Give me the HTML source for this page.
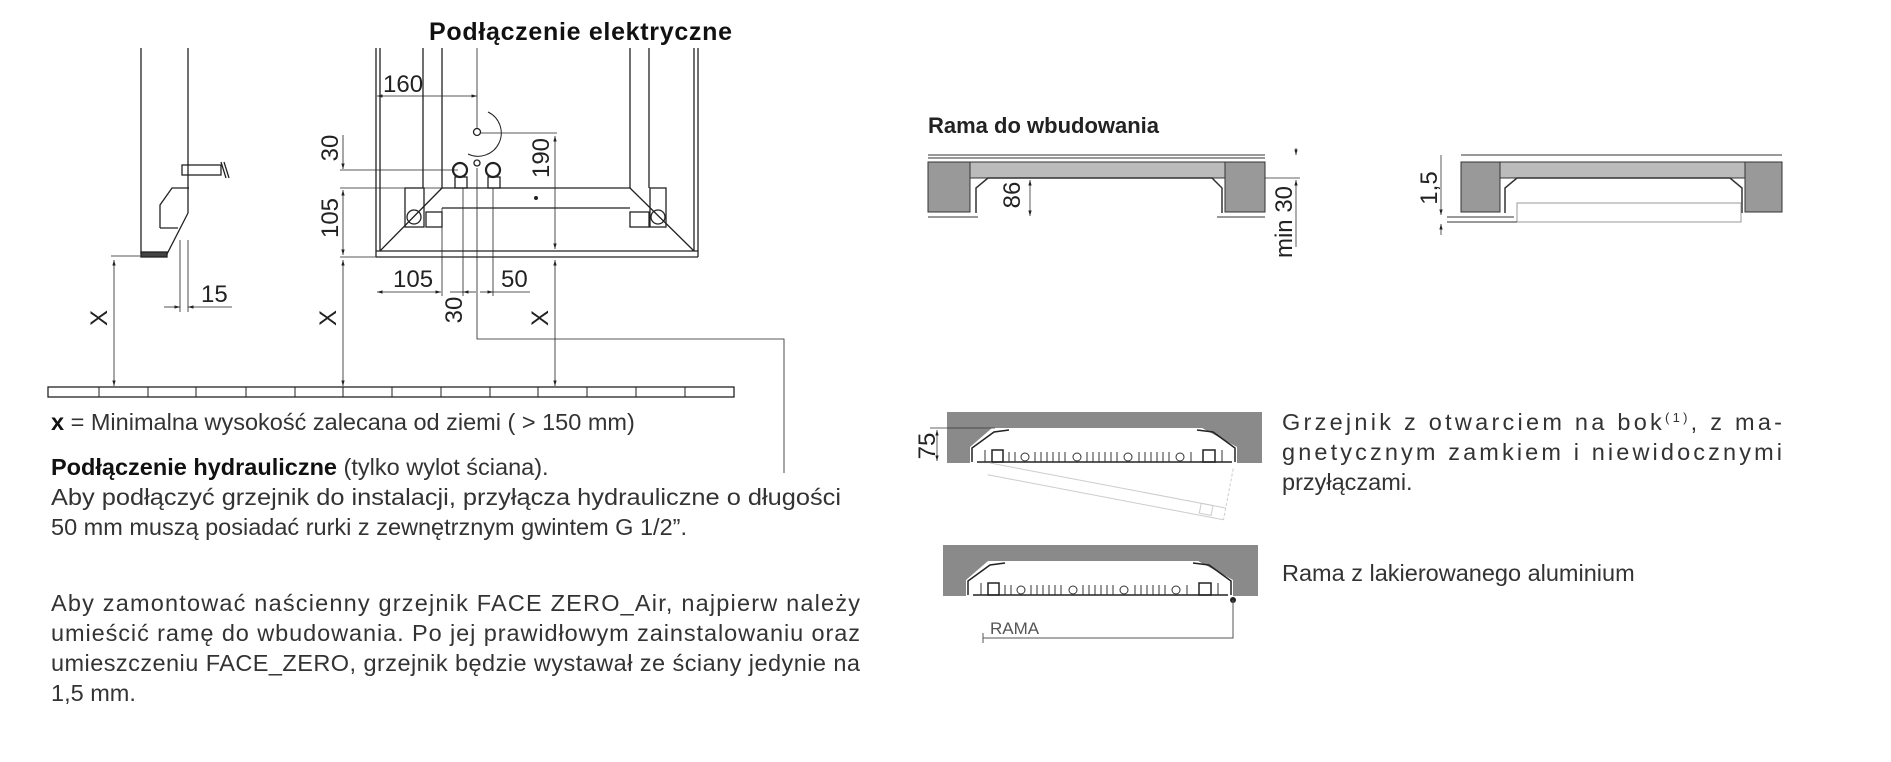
<!DOCTYPE html>
<html><head><meta charset="utf-8"><style>
html,body{margin:0;padding:0;background:#fff}
svg{display:block}
.t{font-family:"Liberation Sans",sans-serif;fill:#333;font-size:23.5px}
.n{font-family:"Liberation Sans Narrow","Liberation Sans",sans-serif;fill:#222;font-size:24px}
</style></head><body>
<svg width="1891" height="762" viewBox="0 0 1891 762" xmlns="http://www.w3.org/2000/svg">
<defs>
<marker id="a" viewBox="0 0 10 10" refX="10" refY="5" markerWidth="7" markerHeight="7" orient="auto-start-reverse"><path d="M0,2 L10,5 L0,8z" fill="#222"/></marker>
<g id="rad">
<rect x="0" y="0" width="315" height="51" fill="#8a8a8a"/>
<polygon points="23,51 23,35 45,16 255,16 290,35 290,51" fill="#fff"/>
<polyline points="25,50 25,36 47,20 62,18" fill="none" stroke="#222" stroke-width="1.5"/>
<polyline points="288,50 288,36 266,20 250,18" fill="none" stroke="#222" stroke-width="1.5"/>
<line x1="30" y1="50" x2="285" y2="50" stroke="#222" stroke-width="1.5"/>
<rect x="45" y="38" width="11" height="12" fill="none" stroke="#222" stroke-width="1.5"/>
<rect x="256" y="38" width="12" height="12" fill="none" stroke="#222" stroke-width="1.5"/>
<g stroke="#333" stroke-width="1">
<line x1="38" y1="38" x2="38" y2="50"/><line x1="62" y1="40" x2="62" y2="50"/><line x1="68" y1="40" x2="68" y2="50"/><line x1="88" y1="40" x2="88" y2="50"/><line x1="94" y1="40" x2="94" y2="50"/><line x1="100" y1="40" x2="100" y2="50"/><line x1="106" y1="40" x2="106" y2="50"/><line x1="112" y1="40" x2="112" y2="50"/><line x1="118" y1="40" x2="118" y2="50"/><line x1="140" y1="40" x2="140" y2="50"/><line x1="146" y1="40" x2="146" y2="50"/><line x1="152" y1="40" x2="152" y2="50"/><line x1="158" y1="40" x2="158" y2="50"/><line x1="164" y1="40" x2="164" y2="50"/><line x1="170" y1="40" x2="170" y2="50"/><line x1="192" y1="40" x2="192" y2="50"/><line x1="198" y1="40" x2="198" y2="50"/><line x1="204" y1="40" x2="204" y2="50"/><line x1="210" y1="40" x2="210" y2="50"/><line x1="216" y1="40" x2="216" y2="50"/><line x1="222" y1="40" x2="222" y2="50"/><line x1="244" y1="40" x2="244" y2="50"/><line x1="275" y1="38" x2="275" y2="50"/>
</g>
<g fill="none" stroke="#333"><circle cx="78" cy="45" r="4"/><circle cx="130" cy="45" r="4"/><circle cx="181" cy="45" r="4"/><circle cx="233" cy="45" r="4"/></g>
</g>
</defs>

<text x="429" y="40" font-family="Liberation Sans,sans-serif" font-weight="bold" font-size="25" fill="#111" textLength="303">Podłączenie elektryczne</text>

<g stroke="#222" stroke-width="1.3" fill="none">
<line x1="141" y1="48" x2="141" y2="254"/>
<line x1="188" y1="48" x2="188" y2="213"/>
<polyline points="188,213 166,256 141,256"/>
<rect x="141" y="252" width="26" height="5" fill="#444"/>
<polyline points="160,228 160,205 172,188 189,188"/>
<line x1="160" y1="228" x2="178" y2="228"/>
<rect x="182" y="165" width="39" height="10"/>
<line x1="221" y1="162" x2="226" y2="178"/><line x1="224" y1="162" x2="229" y2="178"/>
<line x1="111" y1="256" x2="141" y2="256" stroke-width="0.8"/>
<line x1="114" y1="260" x2="114" y2="386" marker-start="url(#a)" marker-end="url(#a)" stroke-width="0.8"/>
<line x1="180" y1="240" x2="180" y2="312" stroke-width="0.8"/>
<line x1="188" y1="240" x2="188" y2="312" stroke-width="0.8"/>
<line x1="164" y1="307" x2="180" y2="307" marker-end="url(#a)" stroke-width="0.8"/>
<line x1="232" y1="307" x2="188" y2="307" marker-end="url(#a)" stroke-width="0.8"/>

<line x1="376" y1="48" x2="376" y2="257"/>
<line x1="380" y1="48" x2="380" y2="251"/>
<line x1="423" y1="48" x2="423" y2="188"/>
<line x1="442" y1="48" x2="442" y2="188"/>
<line x1="630" y1="48" x2="630" y2="188"/>
<line x1="649" y1="48" x2="649" y2="188"/>
<line x1="694" y1="48" x2="694" y2="251"/>
<line x1="698" y1="48" x2="698" y2="257"/>
<line x1="376" y1="251" x2="698" y2="251"/>
<line x1="376" y1="257" x2="698" y2="257"/>
<line x1="442" y1="188" x2="630" y2="188"/>
<line x1="442" y1="208" x2="630" y2="208"/>
<line x1="442" y1="188" x2="380" y2="251"/>
<line x1="630" y1="188" x2="694" y2="251"/>
<rect x="405" y="188" width="19" height="39"/>
<circle cx="414" cy="217" r="7"/>
<rect x="426" y="212" width="16" height="15"/>
<rect x="650" y="188" width="16" height="39"/>
<circle cx="658" cy="217" r="7"/>
<rect x="630" y="212" width="19" height="15"/>
<circle cx="460" cy="170" r="7" stroke-width="2.2"/>
<circle cx="493" cy="170" r="7" stroke-width="2.2"/>
<rect x="455" y="177" width="12" height="11"/>
<rect x="488" y="177" width="12" height="11"/>
<circle cx="477" cy="163" r="3"/>
<circle cx="477" cy="132" r="3.5"/>
<path d="M488,112 A22,22 0 1,1 468,154" stroke-width="1"/>
<line x1="477" y1="48" x2="477" y2="128" stroke-width="0.8"/>
<polyline points="477,168 477,339 784,339 784,473" stroke-width="0.8"/>
<line x1="377" y1="96" x2="477" y2="96" marker-start="url(#a)" marker-end="url(#a)" stroke-width="0.8"/>
<line x1="481" y1="133" x2="557" y2="133" stroke-width="0.8"/>
<line x1="555" y1="136" x2="555" y2="249" marker-start="url(#a)" marker-end="url(#a)" stroke-width="0.8"/>
<line x1="340" y1="170" x2="458" y2="170" stroke-width="0.8"/>
<line x1="340" y1="188" x2="442" y2="188" stroke-width="0.8"/>
<line x1="340" y1="257" x2="376" y2="257" stroke-width="0.8"/>
<line x1="343" y1="135" x2="343" y2="169" marker-end="url(#a)" stroke-width="0.8"/>
<line x1="343" y1="190" x2="343" y2="255" marker-start="url(#a)" marker-end="url(#a)" stroke-width="0.8"/>
<line x1="343" y1="260" x2="343" y2="386" marker-start="url(#a)" marker-end="url(#a)" stroke-width="0.8"/>
<line x1="555" y1="260" x2="555" y2="386" marker-start="url(#a)" marker-end="url(#a)" stroke-width="0.8"/>
<line x1="442" y1="208" x2="442" y2="296" stroke-width="0.8"/>
<line x1="463" y1="188" x2="463" y2="296" stroke-width="0.8"/>
<line x1="493" y1="188" x2="493" y2="296" stroke-width="0.8"/>
<line x1="377" y1="292" x2="441" y2="292" marker-start="url(#a)" marker-end="url(#a)" stroke-width="0.8"/>
<line x1="450" y1="292" x2="463" y2="292" stroke-width="0.8"/>
<line x1="476" y1="292" x2="463" y2="292" marker-end="url(#a)" stroke-width="0.8"/>
<line x1="480" y1="292" x2="493" y2="292" marker-end="url(#a)" stroke-width="0.8"/>
<line x1="493" y1="292" x2="530" y2="292" stroke-width="0.8"/>
<rect x="48" y="387" width="686" height="10"/>
</g>
<g stroke="#222" stroke-width="1">
<line x1="99" y1="387" x2="99" y2="397"/><line x1="148" y1="387" x2="148" y2="397"/><line x1="196" y1="387" x2="196" y2="397"/><line x1="246" y1="387" x2="246" y2="397"/><line x1="295" y1="387" x2="295" y2="397"/><line x1="343" y1="387" x2="343" y2="397"/><line x1="392" y1="387" x2="392" y2="397"/><line x1="441" y1="387" x2="441" y2="397"/><line x1="490" y1="387" x2="490" y2="397"/><line x1="538" y1="387" x2="538" y2="397"/><line x1="587" y1="387" x2="587" y2="397"/><line x1="636" y1="387" x2="636" y2="397"/><line x1="685" y1="387" x2="685" y2="397"/>
</g>
<circle cx="536" cy="198" r="2" fill="#222"/>

<text class="n" x="201" y="302">15</text>
<text class="n" x="383" y="92">160</text>
<text class="n" x="393" y="287">105</text>
<text class="n" x="501" y="287">50</text>
<text class="n" transform="translate(462,310) rotate(-90)" text-anchor="middle">30</text>
<text class="n" transform="translate(338,148) rotate(-90)" text-anchor="middle">30</text>
<text class="n" transform="translate(338,218) rotate(-90)" text-anchor="middle">105</text>
<text class="n" transform="translate(549,158) rotate(-90)" text-anchor="middle">190</text>
<text class="n" transform="translate(107,318) rotate(-90)" text-anchor="middle">X</text>
<text class="n" transform="translate(336,318) rotate(-90)" text-anchor="middle">X</text>
<text class="n" transform="translate(548,318) rotate(-90)" text-anchor="middle">X</text>

<text class="t" x="51" y="430"><tspan font-weight="bold" fill="#111">x</tspan> = Minimalna wysokość zalecana od ziemi ( &gt; 150 mm)</text>
<text class="t" x="51" y="475"><tspan font-weight="bold" fill="#111">Podłączenie hydrauliczne</tspan> (tylko wylot ściana).</text>
<text class="t" x="51" y="505" textLength="790" lengthAdjust="spacingAndGlyphs">Aby podłączyć grzejnik do instalacji, przyłącza hydrauliczne o długości</text>
<text class="t" x="51" y="535">50 mm muszą posiadać rurki z zewnętrznym gwintem G 1/2”.</text>
<text class="t" x="51" y="611" textLength="809">Aby zamontować naścienny grzejnik FACE ZERO_Air, najpierw należy</text>
<text class="t" x="51" y="641" textLength="809">umieścić ramę do wbudowania. Po jej prawidłowym zainstalowaniu oraz</text>
<text class="t" x="51" y="671" textLength="809">umieszczeniu FACE_ZERO, grzejnik będzie wystawał ze ściany jedynie na</text>
<text class="t" x="51" y="701">1,5 mm.</text>

<text x="928" y="133" font-family="Liberation Sans,sans-serif" font-weight="bold" font-size="22" fill="#222">Rama do wbudowania</text>
<g stroke="#333" stroke-width="1">
<line x1="928" y1="155" x2="1265" y2="155"/><line x1="928" y1="158" x2="1265" y2="158"/>
<rect x="928" y="162" width="42" height="50" fill="#999"/>
<rect x="1225" y="162" width="40" height="50" fill="#999"/>
<rect x="970" y="162" width="255" height="16" fill="#bbb"/>
<polyline points="976,213 976,188 988,178 1212,178 1222,188 1222,213" fill="none" stroke-width="1.5"/>
<line x1="928" y1="217" x2="978" y2="217"/><line x1="1217" y1="217" x2="1265" y2="217"/>
<line x1="1030" y1="180" x2="1030" y2="216" marker-start="url(#a)" marker-end="url(#a)" stroke-width="0.8"/>
<line x1="1265" y1="178" x2="1300" y2="178" stroke-width="0.8"/>
<line x1="1296" y1="148" x2="1296" y2="155" marker-end="url(#a)" stroke-width="0.8"/>
<line x1="1296" y1="180" x2="1296" y2="247" marker-start="url(#a)" stroke-width="0.8"/>

<line x1="1461" y1="155" x2="1782" y2="155"/>
<rect x="1461" y="162" width="39" height="50" fill="#999"/>
<rect x="1745" y="162" width="37" height="50" fill="#999"/>
<rect x="1500" y="162" width="245" height="16" fill="#bbb"/>
<polyline points="1505,213 1505,188 1517,178 1730,178 1742,188 1742,213" fill="none" stroke-width="1.5"/>
<rect x="1517" y="203" width="224" height="19" fill="#fff" stroke="#999"/>
<line x1="1447" y1="217" x2="1514" y2="217"/><line x1="1447" y1="222" x2="1517" y2="222"/>
<line x1="1441" y1="155" x2="1441" y2="215" marker-end="url(#a)" stroke-width="0.8"/>
<line x1="1441" y1="235" x2="1441" y2="224" marker-end="url(#a)" stroke-width="0.8"/>
</g>
<text class="n" font-size="18" transform="translate(1020,195) rotate(-90)" text-anchor="middle">86</text>
<text class="n" font-size="18" transform="translate(1292,222) rotate(-90)" text-anchor="middle">min 30</text>
<text class="n" font-size="18" transform="translate(1437,188) rotate(-90)" text-anchor="middle">1,5</text>

<use href="#rad" x="947" y="412"/>
<g transform="translate(990,463) rotate(10.8)" stroke="#ccc" fill="none" stroke-width="1">
<line x1="0" y1="0" x2="240" y2="0"/>
<line x1="0" y1="12" x2="240" y2="12"/>
<line x1="240" y1="-40" x2="240" y2="12" stroke-dasharray="3,2"/>
<rect x="215" y="0" width="12" height="10"/>
</g>
<line x1="937" y1="430" x2="937" y2="461" stroke="#333" stroke-width="0.8" marker-start="url(#a)" marker-end="url(#a)"/>
<line x1="930" y1="428" x2="995" y2="428" stroke="#333" stroke-width="0.8"/>
<text class="n" font-size="14" fill="#555" transform="translate(935,446) rotate(-90)" text-anchor="middle">75</text>

<use href="#rad" x="943" y="545"/>
<circle cx="1233" cy="600" r="3" fill="#222"/>
<polyline points="1233,600 1233,638 983,638" fill="none" stroke="#555" stroke-width="1"/>
<line x1="983" y1="633" x2="983" y2="643" stroke="#555"/>
<text x="990" y="634" font-family="Liberation Sans,sans-serif" font-size="17" fill="#555">RAMA</text>

<text class="t" x="1282" y="430" textLength="500">Grzejnik z otwarciem na bok<tspan font-size="13" dy="-8">(1)</tspan><tspan dy="8">, z ma-</tspan></text>
<text class="t" x="1282" y="460" textLength="500">gnetycznym zamkiem i niewidocznymi</text>
<text class="t" x="1282" y="490">przyłączami.</text>
<text class="t" x="1282" y="581">Rama z lakierowanego aluminium</text>
</svg>
</body></html>
